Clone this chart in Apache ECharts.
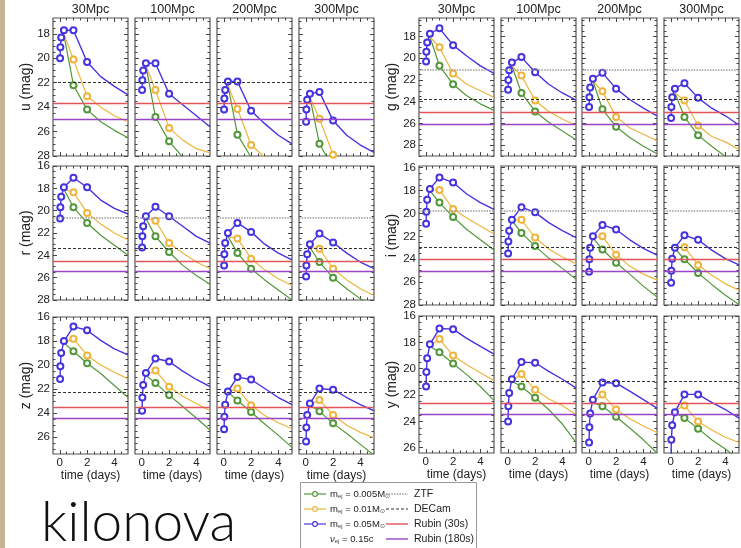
<!DOCTYPE html>
<html>
<head>
<meta charset="utf-8">
<script src="https://cdn.jsdelivr.net/npm/echarts@6/dist/echarts.min.js"></script>
<style>
  html, body { margin: 0; padding: 0; background: #fff; }
  #chart { width: 741px; height: 548px; }
</style>
</head>
<body>
<div id="chart"></div>
<script>
// distances (columns) and bands (rows)
const distances = ["30Mpc", "100Mpc", "200Mpc", "300Mpc"];
const bands = ["u", "g", "r", "i", "z", "y"];

// sampling times (days)
const timesHigh = [0.02, 0.04, 0.1, 0.3, 1, 2, 3, 4, 5]; // m_ej = 0.05
const timesLow = [0.3, 1, 2, 3, 4, 5];                   // m_ej = 0.01 / 0.005
const markedHigh = [0, 1, 2, 3, 4, 5];
const markedLow = [1, 2];

// axis ticks
const xLabels = [0, 2, 4];
const xMinor = [0.5, 1, 1.5, 2.5, 3, 3.5, 4.5];

// magnitudes per band: [30Mpc, 100Mpc, 200Mpc, 300Mpc]
const u05 = [
  [20.0, 19.1, 18.3, 17.7, 17.7, 20.3, 21.5, 22.3, 23.0],
  [22.6, 21.8, 21.0, 20.4, 20.4, 22.9, 23.8, 24.7, 25.6],
  [24.2, 23.3, 22.6, 21.9, 21.9, 24.3, 25.35, 26.3, 27.0],
  [25.2, 24.2, 23.4, 22.9, 22.75, 25.1, 26.3, 27.1, 27.7]
];
const u01 = [
  [18.0, 20.1, 23.1, 24.0, 24.7, 25.2],
  [20.6, 22.6, 25.7, 26.7, 27.4, 27.75],
  [22.2, 24.15, 27.1, 28.1, 29.0, 29.8],
  [23.2, 24.95, 27.9, 29.2, 30.0, 30.6]
];
const u005 = [
  [18.1, 22.2, 24.2, 25.2, 25.9, 26.5],
  [20.6, 24.8, 26.8, 28.1, 29.0, 29.6],
  [22.2, 26.25, 28.1, 29.2, 30.0, 30.5],
  [23.2, 27.0, 29.0, 30.0, 30.8, 31.3]
];
const g05 = [
  [20.3, 19.4, 18.55, 17.75, 17.25, 18.8, 19.8, 20.7, 21.4],
  [22.9, 22.0, 21.1, 20.4, 19.9, 21.3, 22.4, 23.2, 23.85],
  [24.5, 23.6, 22.7, 21.9, 21.35, 22.8, 23.8, 24.6, 25.3],
  [25.5, 24.5, 23.6, 22.8, 22.3, 23.65, 24.6, 25.3, 26.15]
];
const g01 = [
  [18.05, 19.0, 21.4, 22.4, 23.0, 23.6],
  [20.7, 21.6, 23.9, 24.9, 25.6, 26.2],
  [22.1, 23.05, 25.4, 26.4, 27.0, 27.6],
  [23.2, 23.9, 26.2, 27.2, 27.7, 28.4]
];
const g005 = [
  [18.05, 20.7, 22.4, 23.45, 24.2, 24.8],
  [20.7, 23.2, 24.9, 25.9, 26.7, 27.5],
  [22.1, 24.7, 26.3, 27.3, 28.1, 28.8],
  [23.2, 25.4, 27.1, 28.1, 29.05, 29.6]
];
const r05 = [
  [20.7, 19.7, 18.75, 17.9, 17.05, 17.9, 19.05, 19.8, 20.3],
  [23.3, 22.3, 21.4, 20.5, 19.65, 20.5, 21.4, 22.3, 22.9],
  [24.9, 23.9, 22.9, 22.0, 21.1, 21.9, 23.0, 23.8, 24.4],
  [25.9, 24.9, 23.9, 23.0, 22.05, 22.85, 23.8, 24.6, 25.2]
];
const r01 = [
  [18.1, 18.35, 20.2, 21.2, 22.0, 22.6],
  [20.7, 20.9, 22.9, 23.8, 24.6, 25.2],
  [22.3, 22.5, 24.3, 25.3, 26.1, 26.7],
  [23.3, 23.4, 25.2, 26.2, 27.0, 27.6]
];
const r005 = [
  [18.1, 19.7, 21.1, 22.2, 23.1, 24.0],
  [20.7, 22.3, 23.7, 24.9, 25.8, 26.6],
  [22.3, 23.8, 25.2, 26.2, 27.1, 28.0],
  [23.3, 24.6, 26.0, 27.0, 27.9, 28.6]
];
const i05 = [
  [20.9, 19.85, 18.8, 17.85, 16.85, 17.3, 18.3, 19.05, 19.65],
  [23.5, 22.45, 21.5, 20.55, 19.45, 19.9, 20.8, 21.5, 22.1],
  [25.1, 24.0, 23.0, 22.0, 21.0, 21.4, 22.3, 23.05, 23.65],
  [26.05, 25.0, 23.95, 23.0, 21.9, 22.3, 23.2, 23.95, 24.5]
];
const i01 = [
  [17.95, 17.95, 19.6, 20.4, 21.1, 21.8],
  [20.6, 20.55, 22.1, 23.1, 23.8, 24.4],
  [22.1, 22.0, 23.6, 24.6, 25.3, 25.8],
  [23.0, 22.95, 24.5, 25.4, 26.15, 26.7]
];
const i005 = [
  [18.0, 19.05, 20.3, 21.4, 22.3, 23.2],
  [20.6, 21.7, 22.85, 23.9, 24.8, 25.75],
  [22.1, 23.15, 24.3, 25.3, 26.35, 27.3],
  [23.05, 24.0, 25.2, 26.2, 27.15, 27.95]
];
const z05 = [
  [21.15, 20.1, 19.0, 18.0, 16.8, 17.1, 17.95, 18.65, 19.15],
  [23.8, 22.7, 21.65, 20.65, 19.45, 19.7, 20.5, 21.2, 21.8],
  [25.35, 24.3, 23.3, 22.2, 21.0, 21.2, 21.95, 22.7, 23.3],
  [26.35, 25.2, 24.15, 23.2, 21.95, 22.05, 22.7, 23.3, 23.8]
];
const z01 = [
  [18.15, 17.8, 19.2, 20.0, 20.6, 21.15],
  [20.85, 20.45, 21.8, 22.6, 23.2, 23.8],
  [22.25, 21.95, 23.35, 24.2, 24.8, 25.3],
  [23.35, 22.9, 24.15, 25.0, 25.6, 26.05]
];
const z005 = [
  [18.15, 18.85, 19.85, 20.7, 21.7, 22.7],
  [20.85, 21.5, 22.5, 23.45, 24.4, 25.4],
  [22.25, 22.95, 23.9, 24.9, 25.85, 26.85],
  [23.35, 23.85, 24.85, 25.7, 26.6, 27.5]
];
const y05 = [
  [21.35, 20.25, 19.2, 18.15, 16.95, 17.0, 17.7, 18.3, 18.9],
  [24.0, 22.85, 21.85, 20.8, 19.5, 19.55, 20.2, 20.8, 21.45],
  [25.6, 24.45, 23.4, 22.35, 21.05, 21.1, 21.7, 22.35, 23.0],
  [26.5, 25.4, 24.3, 23.3, 21.95, 21.95, 22.55, 23.1, 23.75]
];
const y01 = [
  [18.3, 17.75, 19.0, 19.7, 20.3, 20.9],
  [20.95, 20.4, 21.6, 22.3, 22.8, 23.5],
  [22.5, 21.95, 23.1, 23.8, 24.35, 24.85],
  [23.2, 22.8, 24.0, 24.65, 25.2, 25.6]
];
const y005 = [
  [18.3, 18.75, 19.6, 20.45, 21.35, 22.4],
  [20.95, 21.35, 22.2, 23.1, 24.2, 25.6],
  [22.6, 22.85, 23.65, 24.5, 25.4, 26.4],
  [23.35, 23.75, 24.55, 25.4, 26.1, 26.9]
];

// survey depths per band: [ZTF, DECam, Rubin (30s), Rubin (180s)]
const uDepth = [null, 22.0, 23.7, 25.0];
const gDepth = [21.1, 23.75, 24.95, 26.05];
const rDepth = [20.6, 23.35, 24.5, 25.45];
const iDepth = [19.8, 22.93, 24.0, 25.03];
const zDepth = [null, 22.25, 23.5, 24.45];
const yDepth = [null, 20.95, 22.65, 23.45];

// y ranges (mag)
const uRange = [16.7, 28];
const gRange = [16.3, 29];
const rRange = [16, 28];
const iRange = [15.85, 28];
const zRange = [16, 27.4];
const yRange = [16, 26.4];

const curves = {
  u: [u005, u01, u05], g: [g005, g01, g05], r: [r005, r01, r05],
  i: [i005, i01, i05], z: [z005, z01, z05], y: [y005, y01, y05]
};
const depths = { u: uDepth, g: gDepth, r: rDepth, i: iDepth, z: zDepth, y: yDepth };
const ranges = { u: uRange, g: gRange, r: rRange, i: iRange, z: zRange, y: yRange };

// layout
const leftCols = [53, 135, 217, 299];
const rightCols = [419, 501, 582, 664];
const layout = {
  u: { cols: leftCols, top: 18, height: 138, row: 0 },
  r: { cols: leftCols, top: 166, height: 134, row: 1 },
  z: { cols: leftCols, top: 317, height: 137, row: 2 },
  g: { cols: rightCols, top: 18, height: 138, row: 0 },
  i: { cols: rightCols, top: 166, height: 139, row: 1 },
  y: { cols: rightCols, top: 316, height: 137, row: 2 }
};

const colors = ["#52983a", "#efb43c", "#4533e0"];
const depthStyles = [
  { color: "#999", type: [1.5, 1.2], width: 1.6 },
  { color: "#333", type: [3, 2], width: 1.2 },
  { color: "#e2535a", type: "solid", width: 1.4 },
  { color: "#9b45c6", type: "solid", width: 1.4 }
];
const FONT = "Liberation Sans, Arial, sans-serif";

const grids = [], xAxes = [], yAxes = [], series = [];

function majorEven(range) {
  let out = [];
  for (let v = Math.ceil(range[0] / 2) * 2; v <= range[1] + 1e-9; v += 2) out.push(v);
  return out;
}
function minorHalf(range) {
  let out = [];
  for (let v = Math.ceil(range[0] * 2) / 2; v <= range[1] + 1e-9; v += 0.5) {
    if (v % 2 !== 0) out.push(v);
  }
  return out;
}

bands.forEach(b => {
  const L = layout[b];
  const range = ranges[b];
  const yMaj = majorEven(range), yMin = minorHalf(range);
  L.cols.forEach((left, c) => {
    const gi = grids.length;
    const bottomRow = L.row === 2;
    const firstCol = c === 0;
    grids.push({
      left: left, top: L.top, width: 75, height: L.height,
      show: true, borderColor: "#555", borderWidth: 1.2
    });
    const xBase = {
      gridIndex: gi, type: "value", min: -0.5, max: 5,
      axisLine: { show: false, onZero: false }, splitLine: { show: false }
    };
    // bottom major + labels
    xAxes.push(Object.assign({}, xBase, {
      position: "bottom",
      axisTick: { inside: true, length: 4, customValues: xLabels, lineStyle: { color: "#444" } },
      axisLabel: { show: bottomRow, customValues: xLabels, margin: 3, fontSize: 11.5, color: "#222", fontFamily: FONT },
      name: bottomRow ? "time (days)" : "", nameLocation: "middle", nameGap: 15,
      nameTextStyle: { fontSize: 12, color: "#222", fontFamily: FONT }
    }));
    xAxes.push(Object.assign({}, xBase, {
      position: "bottom",
      axisTick: { inside: true, length: 2.5, customValues: xMinor, lineStyle: { color: "#444" } },
      axisLabel: { show: false }
    }));
    xAxes.push(Object.assign({}, xBase, {
      position: "top",
      axisTick: { inside: true, length: 4, customValues: xLabels, lineStyle: { color: "#444" } },
      axisLabel: { show: false }
    }));
    xAxes.push(Object.assign({}, xBase, {
      position: "top",
      axisTick: { inside: true, length: 2.5, customValues: xMinor, lineStyle: { color: "#444" } },
      axisLabel: { show: false }
    }));
    const yBase = {
      gridIndex: gi, type: "value", inverse: true, min: range[0], max: range[1],
      axisLine: { show: false, onZero: false }, splitLine: { show: false }
    };
    yAxes.push(Object.assign({}, yBase, {
      position: "left",
      axisTick: { inside: true, length: 4, customValues: yMaj, lineStyle: { color: "#444" } },
      axisLabel: { show: firstCol, customValues: yMaj, margin: 3, fontSize: 11.5, color: "#222", fontFamily: FONT },
      name: firstCol ? b + " (mag)" : "", nameLocation: "middle", nameGap: 17,
      nameTextStyle: { fontSize: 14, color: "#222", fontFamily: FONT }
    }));
    yAxes.push(Object.assign({}, yBase, {
      position: "left",
      axisTick: { inside: true, length: 2.5, customValues: yMin, lineStyle: { color: "#444" } },
      axisLabel: { show: false }
    }));
    yAxes.push(Object.assign({}, yBase, {
      position: "right",
      axisTick: { inside: true, length: 4, customValues: yMaj, lineStyle: { color: "#444" } },
      axisLabel: { show: false }
    }));
    yAxes.push(Object.assign({}, yBase, {
      position: "right",
      axisTick: { inside: true, length: 2.5, customValues: yMin, lineStyle: { color: "#444" } },
      axisLabel: { show: false }
    }));

    const xi = gi * 4, yi = gi * 4;
    // survey depth lines
    const d = depths[b];
    const mlData = [];
    d.forEach((v, k) => {
      if (v !== null) mlData.push({ yAxis: v, lineStyle: depthStyles[k] });
    });
    series.push({
      type: "line", xAxisIndex: xi, yAxisIndex: yi, data: [], z: 1, silent: true,
      markLine: { silent: true, symbol: ["none", "none"], label: { show: false }, animation: false, data: mlData }
    });
    // light curves
    curves[b].forEach((set, k) => {
      const times = k === 2 ? timesHigh : timesLow;
      const marked = k === 2 ? markedHigh : markedLow;
      const vals = set[c];
      series.push({
        type: "line", xAxisIndex: xi, yAxisIndex: yi, z: 2 + k,
        showAllSymbol: true, symbolSize: 6, clip: true,
        data: times.map((t, n) => ({
          value: [t, vals[n]],
          symbol: marked.indexOf(n) >= 0 ? "emptyCircle" : "none"
        })),
        lineStyle: { color: colors[k], width: k === 2 ? 1.4 : 1.2 },
        itemStyle: { color: colors[k], borderColor: colors[k], borderWidth: 1.2 }
      });
    });
  });
});

// titles above columns
const graphics = [
  { type: "rect", shape: { x: 0, y: 0, width: 5, height: 548 }, style: { fill: "#c7b396" }, silent: true }
];
[leftCols, rightCols].forEach(cols => {
  cols.forEach((left, c) => {
    graphics.push({
      type: "text", x: left + 37.5, y: 10,
      style: { text: distances[c], fontSize: 12.5, fontFamily: FONT, fill: "#222", align: "center", verticalAlign: "middle" }
    });
  });
});

// legend box
const legendRows = [494, 509, 524, 539];
const legendLeft = [
  "{m|m}{s|ej}{m| = 0.005M}{s|⊙}",
  "{m|m}{s|ej}{m| = 0.01M}{s|⊙}",
  "{m|m}{s|ej}{m| = 0.05M}{s|⊙}",
  "{v|ν}{s|ej}{m| = 0.15c}"
];
const legendRight = ["ZTF", "DECam", "Rubin (30s)", "Rubin (180s)"];
const rich = {
  m: { fontSize: 9.5, fontFamily: FONT, fill: "#222" },
  v: { fontSize: 9.5, fontFamily: FONT, fontStyle: "italic", fill: "#222" },
  s: { fontSize: 6, fontFamily: FONT, fill: "#444", padding: [4, 0, 0, 0] }
};
graphics.push({
  type: "rect", shape: { x: 300.5, y: 482.5, width: 176, height: 70 },
  style: { fill: "#fff", stroke: "#999", lineWidth: 1 }
});
legendRows.forEach((yy, k) => {
  if (k < 3) {
    graphics.push({ type: "line", shape: { x1: 304, y1: yy, x2: 326, y2: yy }, style: { stroke: colors[k], lineWidth: 1.2 } });
    graphics.push({ type: "circle", shape: { cx: 315, cy: yy, r: 2.4 }, style: { fill: "#fff", stroke: colors[k], lineWidth: 1.1 } });
  }
  graphics.push({
    type: "text", x: 330, y: yy,
    style: { text: legendLeft[k], rich: rich, verticalAlign: "middle", fill: "#222" }
  });
  const ds = depthStyles[k];
  graphics.push({
    type: "line", shape: { x1: 386, y1: yy, x2: 408, y2: yy },
    style: { stroke: ds.color, lineWidth: ds.width, lineDash: ds.type === "solid" ? null : ds.type }
  });
  graphics.push({
    type: "text", x: 414, y: yy,
    style: { text: legendRight[k], fontSize: 10.5, fontFamily: FONT, fill: "#222", verticalAlign: "middle" }
  });
});

graphics.push({
  type: "text", x: 41, y: 523,
  style: { text: "kilonova", fontSize: 55, fontFamily: "Lato, 'Open Sans', sans-serif", fontWeight: 300, fill: "#111", verticalAlign: "middle" }
});

const chart = echarts.init(document.getElementById("chart"));
chart.setOption({
  animation: false,
  grid: grids,
  xAxis: xAxes,
  yAxis: yAxes,
  series: series,
  graphic: graphics
});
</script>
</body>
</html>
